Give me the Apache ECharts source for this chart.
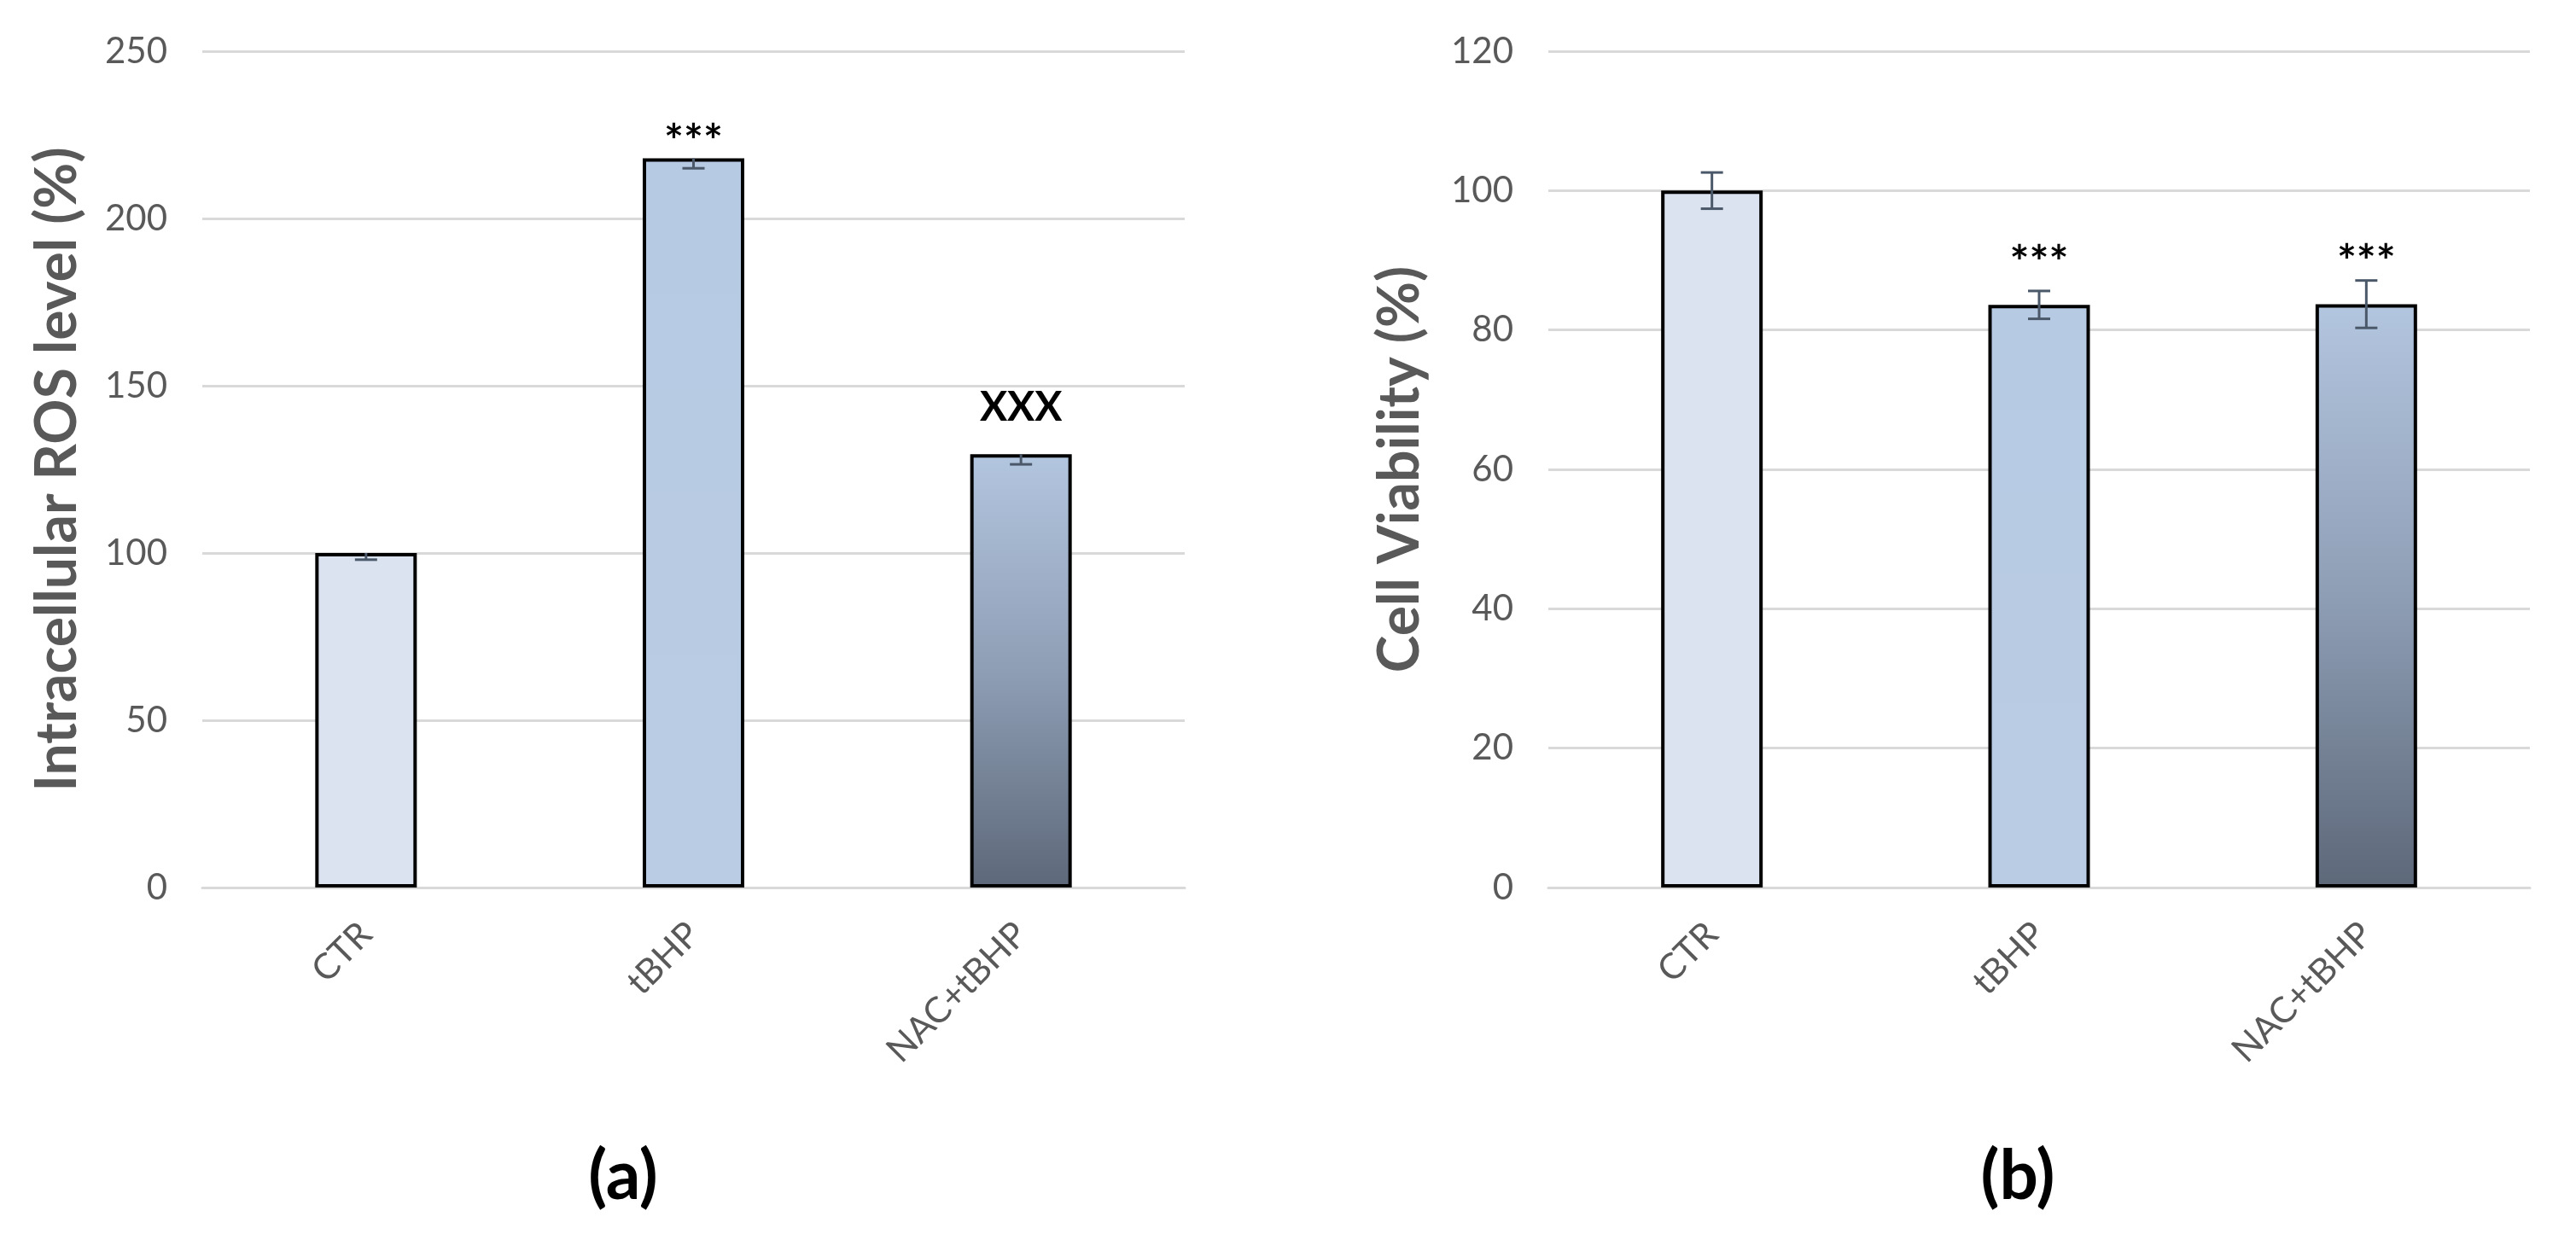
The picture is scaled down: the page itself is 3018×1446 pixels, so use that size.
<!DOCTYPE html>
<html>
<head>
<meta charset="utf-8">
<script src="https://cdn.jsdelivr.net/npm/echarts@6/dist/echarts.min.js"></script>
<style>
html, body { margin: 0; padding: 0; background: #fff; }
#chart { width: 3018px; height: 1446px; }
</style>
</head>
<body>
<div id="chart"></div>
<script>
// groups on the x axis
const categories = ['CTR', 'tBHP', 'NAC+tBHP']

// (a) intracellular ROS level (%)
const rosValues = [100, 218, 129.5]
const rosErrors = [2, 3, 3]
const rosMarks = ['', '***', 'XXX']
const rosAxis = { min: 0, max: 250, interval: 50 }

// (b) cell viability (%)
const viabilityValues = [100, 83.6, 83.7]
const viabilityErrors = [2.6, 2, 3.4]
const viabilityMarks = ['', '***', '***']
const viabilityAxis = { min: 0, max: 120, interval: 20 }

const font = 'Lato'
const grey = '#595959'

const barFills = [
  '#dae3ef',
  new echarts.graphic.LinearGradient(0, 0, 0, 1, [
    { offset: 0, color: '#b6cae3' },
    { offset: 1, color: '#b9cce3' }
  ]),
  new echarts.graphic.LinearGradient(0, 0, 0, 1, [
    { offset: 0, color: '#b3c6df' },
    { offset: 0.5, color: '#8e9eb5' },
    { offset: 1, color: '#5d6879' }
  ])
]

function markStyle (mark) {
  if (mark === 'XXX') return { fontSize: 48 }
  return { fontSize: 54 }
}

function barSeries (index, values, marks, gaps) {
  return {
    type: 'bar',
    xAxisIndex: index,
    yAxisIndex: index,
    barWidth: 119,
    z: 2,
    data: values.map(function (v, i) {
      return {
        value: v,
        itemStyle: { color: barFills[i], borderColor: '#000', borderWidth: 4 },
        label: Object.assign({
          show: marks[i] !== '',
          formatter: marks[i],
          position: 'top',
          distance: gaps[marks[i]] || 0,
          color: '#000',
          fontFamily: font,
          fontWeight: 'bold'
        }, markStyle(marks[i]))
      }
    })
  }
}

function errorSeries (index, values, errors, both) {
  return {
    type: 'custom',
    xAxisIndex: index,
    yAxisIndex: index,
    z: 5,
    encode: { x: 0, y: 1 },
    data: values.map(function (v, i) { return [i, v, errors[i]] }),
    renderItem: function (params, api) {
      const x = api.value(0)
      const v = api.value(1)
      const e = api.value(2)
      const top = api.coord([x, both ? v + e : v])
      const bottom = api.coord([x, v - e])
      const half = 13
      const style = { stroke: '#4a5869', lineWidth: 3 }
      const children = [
        { type: 'line', shape: { x1: top[0], y1: top[1], x2: bottom[0], y2: bottom[1] }, style: style },
        { type: 'line', shape: { x1: bottom[0] - half, y1: bottom[1], x2: bottom[0] + half, y2: bottom[1] }, style: style }
      ]
      if (both) {
        children.push({ type: 'line', shape: { x1: top[0] - half, y1: top[1], x2: top[0] + half, y2: top[1] }, style: style })
      }
      return { type: 'group', children: children }
    }
  }
}

function xAxis (index) {
  return {
    type: 'category',
    gridIndex: index,
    data: categories,
    axisLine: { lineStyle: { color: '#d9d9d9', width: 3 } },
    axisTick: { show: false },
    axisLabel: { rotate: 45, margin: 48, fontSize: 42, fontFamily: font, color: grey }
  }
}

function yAxis (index, range, name, gap) {
  return {
    type: 'value',
    gridIndex: index,
    min: range.min,
    max: range.max,
    interval: range.interval,
    name: name,
    nameLocation: 'middle',
    nameRotate: 90,
    nameGap: gap,
    nameTextStyle: { fontSize: 66, fontWeight: 'bold', fontFamily: font, color: grey },
    axisLine: { show: false },
    axisTick: { show: false },
    axisLabel: { margin: 41, fontSize: 42, fontFamily: font, color: grey },
    splitLine: { lineStyle: { color: '#d9d9d9', width: 3 } }
  }
}

const chart = echarts.init(document.getElementById('chart'))
chart.setOption({
  backgroundColor: '#fff',
  animation: false,
  grid: [
    { left: 237, top: 60, width: 1151, height: 980 },
    { left: 1814, top: 60, width: 1150, height: 980 }
  ],
  xAxis: [xAxis(0), xAxis(1)],
  yAxis: [
    yAxis(0, rosAxis, 'Intracellular ROS level (%)', 136),
    yAxis(1, viabilityAxis, 'Cell Viability (%)', 140)
  ],
  series: [
    barSeries(0, rosValues, rosMarks, { '***': -8, 'XXX': 31 }),
    errorSeries(0, rosValues, rosErrors, false),
    barSeries(1, viabilityValues, viabilityMarks, { '***': 22 }),
    errorSeries(1, viabilityValues, viabilityErrors, true)
  ],
  graphic: [
    { type: 'text', x: 730, y: 1379, style: { text: '(a)', align: 'center', verticalAlign: 'middle', fontSize: 80, fontWeight: 'bold', fontFamily: font, fill: '#000' } },
    { type: 'text', x: 2364, y: 1379, style: { text: '(b)', align: 'center', verticalAlign: 'middle', fontSize: 80, fontWeight: 'bold', fontFamily: font, fill: '#000' } }
  ]
})
</script>
</body>
</html>
